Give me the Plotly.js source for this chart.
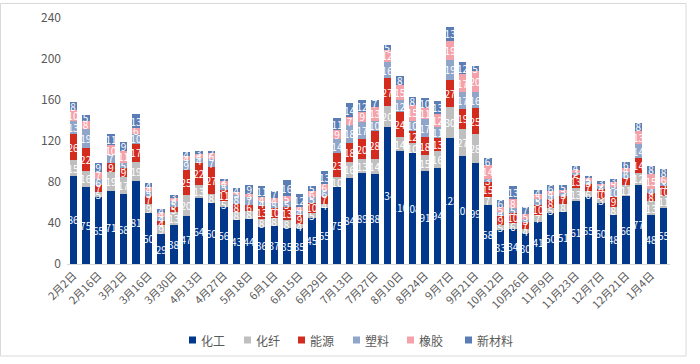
<!DOCTYPE html>
<html>
<head>
<meta charset="utf-8">
<script src="https://cdn.plot.ly/plotly-3.0.1.min.js"></script>
<style>html,body{margin:0;padding:0;background:#fff;}#chart{width:700px;height:364px;}</style>
</head>
<body>
<div id="chart"></div>
<script>
const categories = ["2月2日","2月9日","2月16日","2月23日","3月2日","3月9日","3月16日","3月23日","3月30日","4月6日","4月13日","4月20日","4月27日","5月11日","5月18日","5月25日","6月1日","6月8日","6月15日","6月22日","6月29日","7月6日","7月13日","7月20日","7月27日","8月3日","8月10日","8月17日","8月24日","8月31日","9月7日","9月14日","9月21日","9月28日","10月12日","10月19日","10月26日","11月2日","11月9日","11月16日","11月23日","11月30日","12月7日","12月14日","12月21日","12月28日","1月4日","1月11日"];
const xTickLabels = ["2月2日","2月16日","3月2日","3月16日","3月30日","4月13日","4月27日","5月18日","6月1日","6月15日","6月29日","7月13日","7月27日","8月10日","8月24日","9月7日","9月21日","10月12日","10月26日","11月9日","11月23日","12月7日","12月21日","1月4日"];
const yTickValues = [0,40,80,120,160,200,240];

const seriesNames = ["化工","化纤","能源","塑料","橡胶","新材料"];
const chemical  = [86,75,65,71,68,81,50,29,38,47,64,60,56,43,44,36,37,35,35,45,55,75,84,89,88,134,110,108,91,94,123,105,99,58,33,34,30,41,50,51,61,65,60,48,66,77,48,55];
const fiber     = [15,16,5,19,17,19,9,9,13,20,13,8,5,8,8,8,8,8,4,5,4,10,16,13,14,20,14,10,15,16,30,27,28,7,5,6,4,7,5,8,13,6,3,8,11,12,13,11];
const energy    = [26,22,7,9,9,17,7,4,5,25,22,27,11,8,6,13,10,13,9,10,7,23,18,20,28,27,24,12,18,13,27,19,25,15,9,10,7,10,8,7,13,7,10,9,7,14,8,10];
const plastic   = [13,19,6,7,5,10,5,4,5,9,4,7,5,8,7,4,5,5,4,5,6,14,18,17,10,16,12,10,17,11,19,17,16,3,4,5,3,5,4,3,2,3,3,10,6,14,4,3];
const rubber    = [10,8,7,10,11,6,4,4,3,4,4,6,4,3,3,4,4,5,4,6,6,9,7,9,13,12,15,15,11,12,19,17,20,14,5,8,5,5,4,3,3,3,2,5,4,13,15,6];
const newMat    = [8,5,9,11,9,13,4,4,3,4,3,2,2,4,9,11,7,16,12,5,13,11,14,12,7,5,8,8,10,13,13,12,5,6,6,13,7,4,6,5,4,2,3,3,6,8,8,8];
const seriesValues = [chemical, fiber, energy, plastic, rubber, newMat];
const seriesColors = ["#02388B","#BFBFBF","#D42B1F","#8FA5C9","#F4A1A9","#5B7DB5"];

const W = 700, H = 364, ML = 67, MR = 30, MT = 18, MB = 100;
const PW = W - ML - MR, PH = H - MT - MB;
const px = x => (x - ML) / PW;
const py = y => (H - MB - y) / PH;

const font = "'Noto Sans CJK SC', 'Noto Sans', sans-serif";

const traces = seriesNames.map((name, i) => ({
  type: 'bar',
  name: name,
  x: categories,
  y: seriesValues[i],
  text: seriesValues[i].map(String),
  textposition: 'inside',
  insidetextanchor: 'middle',
  textangle: 0,
  constraintext: 'none',
  cliponaxis: false,
  textfont: {family: font, size: 10, color: '#FFFFFF'},
  marker: {color: seriesColors[i], line: {width: 0}},
  hoverinfo: 'skip'
}));

// custom legend (squares + text)
const legendX = [189, 244, 298, 353, 407, 465];
const legendY = 340;
const shapes = [];
const annotations = [];
seriesNames.forEach((name, i) => {
  shapes.push({type: 'rect', xref: 'paper', yref: 'paper',
    x0: px(legendX[i]), x1: px(legendX[i] + 7), y0: py(legendY + 3.5), y1: py(legendY - 3.5),
    fillcolor: seriesColors[i], line: {width: 0}});
  annotations.push({xref: 'paper', yref: 'paper', x: px(legendX[i] + 10), y: py(legendY),
    xanchor: 'left', yanchor: 'middle', text: name, showarrow: false,
    font: {family: font, size: 12, color: '#595959'}});
});
// chart frame
shapes.push({type: 'rect', xref: 'paper', yref: 'paper',
  x0: px(0.5), x1: px(686), y0: py(356), y1: py(3.5),
  line: {color: '#D9D9D9', width: 1}, fillcolor: 'rgba(0,0,0,0)'});

const layout = {
  width: W, height: H,
  margin: {l: ML, r: MR, t: MT, b: MB, pad: 0},
  barmode: 'stack',
  bargap: 0.4,
  showlegend: false,
  paper_bgcolor: '#FFFFFF',
  plot_bgcolor: '#FFFFFF',
  font: {family: font, color: '#595959'},
  xaxis: {
    type: 'category',
    categoryorder: 'array',
    categoryarray: categories,
    tickvals: xTickLabels,
    ticktext: xTickLabels,
    tickangle: -45,
    tickfont: {family: font, size: 11, color: '#595959'},
    showline: true, linecolor: '#D9D9D9', linewidth: 1,
    ticks: '', showgrid: false, zeroline: false,
    fixedrange: true
  },
  yaxis: {
    range: [0, 240],
    tickvals: yTickValues,
    tickfont: {family: font, size: 12, color: '#595959'},
    showline: false, showgrid: false, zeroline: false, ticks: '',
    ticklabelstandoff: 5,
    fixedrange: true
  },
  shapes: shapes,
  annotations: annotations
};

Plotly.newPlot('chart', traces, layout, {displayModeBar: false, staticPlot: true});
</script>
</body>
</html>
